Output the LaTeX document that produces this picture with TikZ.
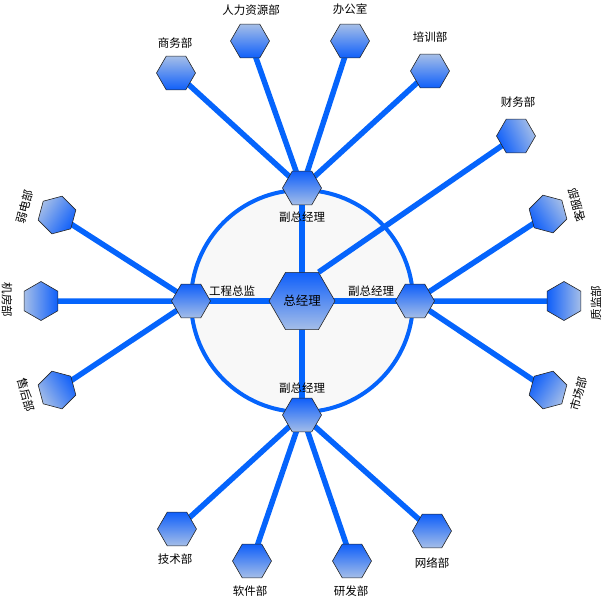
\documentclass[tikz,border=0pt]{standalone}
\usepackage{fontspec}
\setmainfont{Noto Sans CJK SC}
\usetikzlibrary{shapes.geometric, backgrounds}
\definecolor{spokeblue}{RGB}{5,100,252}
\definecolor{hexdark}{RGB}{15,95,250}
\definecolor{hexlight}{RGB}{165,190,232}
\definecolor{ringfill}{RGB}{248,248,248}

\begin{document}
\begin{tikzpicture}[x=1pt,y=-1pt,
    hexa/.style={regular polygon, regular polygon sides=6, minimum size=39pt, inner sep=0pt,
      draw=black!85, line width=0.6pt, top color=hexlight, bottom color=hexdark},
    hub/.style={hexa, shading angle=180},
    boss/.style={hub, minimum size=66pt, font=\fontsize{12.5}{14}\selectfont},
    lbl/.style={inner sep=0pt, font=\fontsize{11.5}{13}\selectfont},
    spoke/.style={draw=spokeblue, line width=5.5pt}]
        \useasboundingbox (0,0) rectangle (604,600);
        % hubs
        \node[boss] (zjl) at (302,301) {总经理};
        \node[hub] (fzT) at (302,188) {};
        \node[hub] (gczj) at (191,301) {};
        \node[hub] (fzR) at (415,301) {};
        \node[hub] (fzB) at (302,415) {};
        \node[lbl] (l-fzT) at (302,217) {副总经理};
        \node[lbl] (l-gczj) at (232,291) {工程总监};
        \node[lbl] (l-fzR) at (371,291) {副总经理};
        \node[lbl] (l-fzB) at (302,388) {副总经理};
        % top
        \node[hexa] (swb) at (176,73) {};
        \node[hexa] (rlzy) at (250,41) {};
        \node[hexa] (bgs) at (350,41) {};
        \node[hexa] (pxb) at (430,71) {};
        \node[hexa, shading angle=-65] (cwb) at (516,136) {};
        \node[lbl] (l-swb) at (175,43) {商务部};
        \node[lbl] (l-rlzy) at (251,10) {人力资源部};
        \node[lbl] (l-bgs) at (350,9) {办公室};
        \node[lbl] (l-pxb) at (430,37) {培训部};
        \node[lbl] (l-cwb) at (518,102) {财务部};
        % left
        \node[hexa, shape border rotate=15, shading angle=57] (rdb) at (57,215) {};
        \node[hexa, shape border rotate=30, shading angle=90] (jfb) at (41,301) {};
        \node[hexa, shape border rotate=-15, shading angle=123] (shb) at (57,390) {};
        \node[lbl, rotate=75] (l-rdb) at (25,207) {弱电部};
        \node[lbl, rotate=-90] (l-jfb) at (7,300) {机房部};
        \node[lbl, rotate=-75] (l-shb) at (26,395) {售后部};
        % right
        \node[hexa, shape border rotate=-15, shading angle=-57] (kfb) at (548,214) {};
        \node[hexa, shape border rotate=30, shading angle=-90] (zjb) at (564,301) {};
        \node[hexa, shape border rotate=15, shading angle=-123] (scb) at (548,390) {};
        \node[lbl, rotate=105] (l-kfb) at (577,205) {客服部};
        \node[lbl, rotate=90] (l-zjb) at (596,303) {质监部};
        \node[lbl, rotate=75] (l-scb) at (579,394) {市场部};
        % bottom
        \node[hexa, shading angle=180] (jsb) at (177,529) {};
        \node[hexa, shading angle=180] (rjb) at (252,561) {};
        \node[hexa, shading angle=180] (yfb) at (352,561) {};
        \node[hexa, shading angle=180] (wlb) at (432,531) {};
        \node[lbl] (l-jsb) at (175,559) {技术部};
        \node[lbl] (l-rjb) at (250,591) {软件部};
        \node[lbl] (l-yfb) at (351,591) {研发部};
        \node[lbl] (l-wlb) at (432,563) {网络部};
        \begin{scope}[on background layer]
            \filldraw[fill=ringfill, draw=spokeblue, line width=4pt] (zjl.center) circle (111);
            \draw[spoke] (fzT.center) -- (zjl.center) (gczj.center) -- (zjl.center)
                (fzR.center) -- (zjl.center) (fzB.center) -- (zjl.center);
            \draw[spoke] (zjl.60) -- (cwb.center);
            \draw[spoke] (fzT.center) -- (swb.center) (fzT.center) -- (rlzy.center)
                (fzT.center) -- (bgs.center) (fzT.center) -- (pxb.center);
            \draw[spoke] (gczj.center) -- (rdb.center) (gczj.center) -- (jfb.center)
                (gczj.center) -- (shb.center);
            \draw[spoke] (fzR.center) -- (kfb.center) (fzR.center) -- (zjb.center)
                (fzR.center) -- (scb.center);
            \draw[spoke] (fzB.center) -- (jsb.center) (fzB.center) -- (rjb.center)
                (fzB.center) -- (yfb.center) (fzB.center) -- (wlb.center);
        \end{scope}
\end{tikzpicture}
\end{document}
